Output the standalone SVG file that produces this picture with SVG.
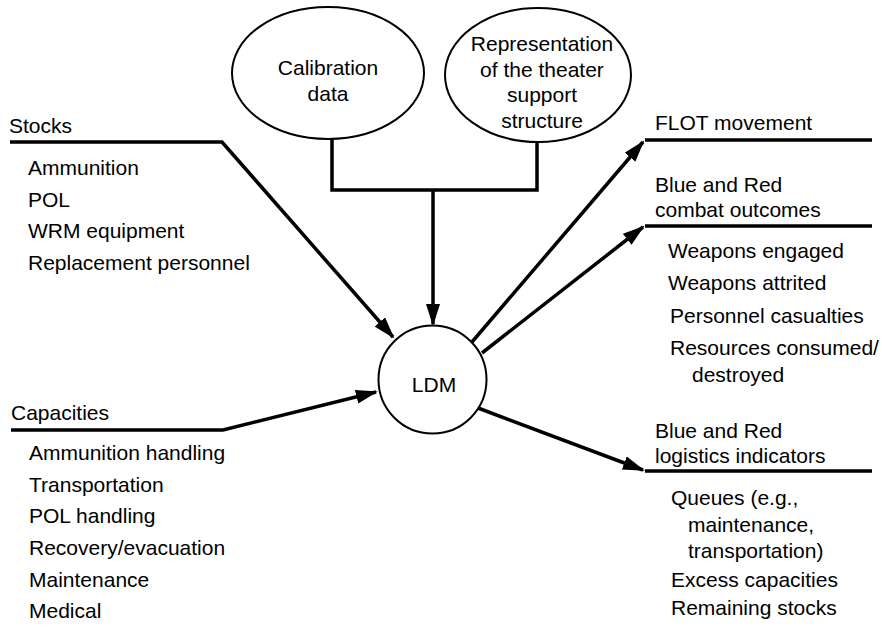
<svg xmlns="http://www.w3.org/2000/svg" width="882" height="627" viewBox="0 0 882 627">
<style>
text{font-family:"Liberation Sans",Arial,Helvetica,sans-serif;font-size:21px;fill:#000}
.c{text-anchor:middle}
.node{fill:#fff;stroke:#000;stroke-width:2}
.conn{fill:none;stroke:#000;stroke-width:3.5;stroke-linejoin:miter}
.arr{marker-end:url(#ah)}
</style>
<defs>
<marker id="ah" markerUnits="userSpaceOnUse" markerWidth="24" markerHeight="16" refX="20" refY="7" orient="auto">
<path d="M0,0 L22,7 L0,14 Z" fill="#000"/>
</marker>
</defs>
<rect width="882" height="627" fill="#fff"/>
<g id="connectors">
<path class="conn arr" d="M10,142 L222,142 L393,337"/>
<path class="conn arr" d="M11,430 L223,430 L376,392"/>
<path class="conn" d="M332,139 L332,190 L537,190 L537,141"/>
<path class="conn arr" d="M433,190 L433,324"/>
<path class="conn arr" d="M472,342 L643,142"/>
<path class="conn arr" d="M482,353 L643,227"/>
<path class="conn arr" d="M478,408 L643,470"/>
<line class="conn" x1="645" y1="140" x2="872" y2="140"/>
<line class="conn" x1="645" y1="226" x2="872" y2="226"/>
<line class="conn" x1="645" y1="471" x2="872" y2="471"/>
</g>
<g id="calibration">
<ellipse class="node" cx="328" cy="73" rx="96" ry="66"/>
<text class="c" x="328" y="75">Calibration</text>
<text class="c" x="328" y="101">data</text>
</g>
<g id="theater">
<ellipse class="node" cx="538" cy="75" rx="93" ry="67"/>
<text class="c" x="542" y="51">Representation</text>
<text class="c" x="542" y="77">of the theater</text>
<text class="c" x="542" y="102">support</text>
<text class="c" x="542" y="128">structure</text>
</g>
<g id="ldm">
<circle class="node" cx="432.5" cy="379.5" r="54"/>
<text class="c" x="434" y="392">LDM</text>
</g>
<g id="stocks">
<text x="9" y="133">Stocks</text>
<text x="28" y="175">Ammunition</text>
<text x="28" y="207">POL</text>
<text x="28" y="238">WRM equipment</text>
<text x="28" y="270">Replacement personnel</text>
</g>
<g id="capacities">
<text x="11" y="420">Capacities</text>
<text x="29" y="460">Ammunition handling</text>
<text x="29" y="492">Transportation</text>
<text x="29" y="523">POL handling</text>
<text x="29" y="555">Recovery/evacuation</text>
<text x="29" y="587">Maintenance</text>
<text x="29" y="618">Medical</text>
</g>
<g id="flot">
<text x="655" y="130">FLOT movement</text>
</g>
<g id="combat">
<text x="655" y="192">Blue and Red</text>
<text x="655" y="217">combat outcomes</text>
<text x="668" y="258">Weapons engaged</text>
<text x="668" y="290">Weapons attrited</text>
<text x="670" y="323">Personnel casualties</text>
<text x="670" y="355">Resources consumed/</text>
<text x="692" y="382">destroyed</text>
</g>
<g id="logistics">
<text x="655" y="438">Blue and Red</text>
<text x="655" y="463">logistics indicators</text>
<text x="671" y="505">Queues (e.g.,</text>
<text x="688" y="532">maintenance,</text>
<text x="688" y="558">transportation)</text>
<text x="671" y="587">Excess capacities</text>
<text x="671" y="615">Remaining stocks</text>
</g>
</svg>
